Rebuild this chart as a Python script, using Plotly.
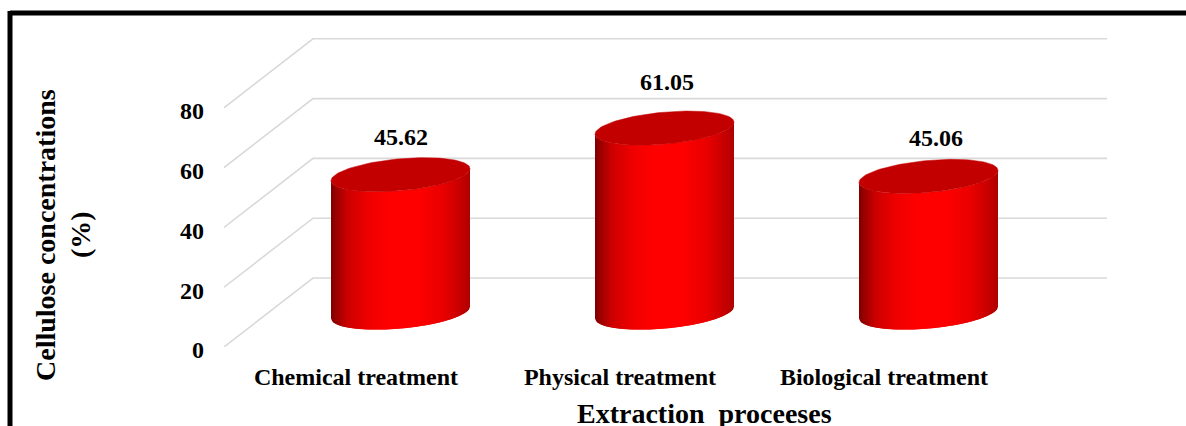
import numpy as np
import plotly.graph_objects as go

# Chart data
categories = ["Chemical treatment", "Physical treatment", "Biological treatment"]
cellulose = [45.62, 61.05, 45.06]
y_ticks = [0, 20, 40, 60, 80]
y_title_lines = ["Cellulose concentrations", "(%)"]
x_title = "Extraction  proceeses"

# Canvas and plot area, in pixels
WIDTH, HEIGHT = 1186, 426
LEFT, RIGHT, TOP, BOTTOM = 224, 79, 30, 79
X_PX = 264.0   # pixels per category
Y_PX = 2.99    # pixels per percentage point

# Floor depth of the pseudo-3D box, in axis units
DEPTH_X = 89 / X_PX
DEPTH_Y = 69 / Y_PX

# Cylinder geometry, in axis units
RX = 69.5 / X_PX
RY = 16 / Y_PX
TILT = 6 / Y_PX
HEIGHT_GAIN = 1.01  # columns sit mid-depth, slightly nearer the viewer
N_STRIPS = 70

FONT = "Liberation Serif"
GRID = "#d9d9d9"
CAP = "#c20000"
SHADE_POS = [0.0, 0.03, 0.12, 0.26, 0.42, 0.62, 0.8, 0.93, 1.0]
SHADE_RED = [125, 150, 205, 238, 255, 255, 234, 200, 175]


def shade(f):
    return f"rgb({int(np.interp(f, SHADE_POS, SHADE_RED))},0,0)"


def lower_arc(u, cx, cy):
    return cx + RX * u, cy - RY * np.sqrt(max(0.0, 1 - u * u)) + TILT * u


fig = go.Figure()

# Side wall and floor gridlines of the box
x0 = -0.5
x1 = len(categories) - 0.5 + DEPTH_X + 2 / X_PX
for v in y_ticks:
    fig.add_trace(go.Scatter(
        x=[x0, x0 + DEPTH_X, x1],
        y=[v, v + DEPTH_Y, v + DEPTH_Y],
        mode="lines",
        line=dict(color=GRID, width=1.6),
        cliponaxis=False,
        hoverinfo="skip",
    ))

# Cylinders: shaded vertical strips for the wall, then the top cap.
# Each strip reaches under its right-hand neighbour so no seams show.
for i, value in enumerate(cellulose):
    cx = i + DEPTH_X / 2
    base = DEPTH_Y / 2
    top = base + value * HEIGHT_GAIN
    edges = np.linspace(-1, 1, N_STRIPS + 1)
    for k in range(N_STRIPS):
        us = np.linspace(edges[k], edges[min(k + 2, N_STRIPS)], 4)
        arc = [lower_arc(u, cx, 0) for u in us]
        xs = [p[0] for p in arc]
        ys = [p[1] for p in arc]
        fig.add_trace(go.Scatter(
            x=xs + xs[::-1] + xs[:1],
            y=[top + y for y in ys] + [base + y for y in ys[::-1]] + [top + ys[0]],
            mode="lines",
            fill="toself",
            fillcolor=shade((k + 0.5) / N_STRIPS),
            line=dict(width=0),
            hoverinfo="skip",
        ))
    t = np.linspace(0, 2 * np.pi, 121)
    fig.add_trace(go.Scatter(
        x=cx + RX * np.cos(t),
        y=top + RY * np.sin(t) + TILT * np.cos(t),
        mode="lines",
        fill="toself",
        fillcolor=CAP,
        line=dict(color=CAP, width=0.5),
        hoverinfo="skip",
    ))

# Value labels above each column
label_xshift = [0, 2, 7]
label_yshift = [38, 46, 38]
for i, value in enumerate(cellulose):
    fig.add_annotation(
        x=i + DEPTH_X / 2,
        y=DEPTH_Y / 2 + value * HEIGHT_GAIN,
        text=f"<b>{value:.2f}</b>",
        showarrow=False,
        xshift=label_xshift[i],
        yshift=label_yshift[i],
        font=dict(family=FONT, size=24, color="black"),
    )


def paper_x(px):
    return (px - LEFT) / (WIDTH - LEFT - RIGHT)


def paper_y(px):
    return 1 - (px - TOP) / (HEIGHT - TOP - BOTTOM)


# Axis titles
for line, px in zip(y_title_lines, [45, 80]):
    fig.add_annotation(
        xref="paper", yref="paper", x=paper_x(px), y=paper_y(235),
        xanchor="center", yanchor="middle",
        text=f"<b>{line}</b>", textangle=-90, showarrow=False,
        font=dict(family=FONT, size=28, color="black"),
    )
fig.add_annotation(
    xref="paper", yref="paper", x=paper_x(704), y=paper_y(413),
    xanchor="center", yanchor="middle",
    text=f"<b>{x_title}</b>", showarrow=False,
    font=dict(family=FONT, size=28, color="black"),
)

# Black frame, open on the right and bottom
frame = dict(type="line", xref="paper", yref="paper", line=dict(color="black", width=5))
fig.add_shape(x0=paper_x(10), x1=paper_x(1190), y0=paper_y(13), y1=paper_y(13), **frame)
fig.add_shape(x0=paper_x(10), x1=paper_x(10), y0=paper_y(11), y1=paper_y(430), **frame)

fig.update_layout(
    width=WIDTH,
    height=HEIGHT,
    margin=dict(l=LEFT, r=RIGHT, t=TOP, b=BOTTOM, autoexpand=False),
    paper_bgcolor="white",
    plot_bgcolor="white",
    showlegend=False,
    font=dict(family=FONT, color="black"),
    xaxis=dict(
        range=[-0.5, (WIDTH - LEFT - RIGHT) / X_PX - 0.5],
        tickmode="array",
        tickvals=list(range(len(categories))),
        ticktext=[f"<b>{c}</b>" for c in categories],
        tickfont=dict(family=FONT, size=24, color="black"),
        ticks="",
        showgrid=False,
        zeroline=False,
        showline=False,
        ticklabelstandoff=13,
        automargin=False,
    ),
    yaxis=dict(
        range=[0, (HEIGHT - TOP - BOTTOM) / Y_PX],
        tickmode="array",
        tickvals=y_ticks,
        ticktext=[f"<b>{v}</b>" for v in y_ticks],
        tickfont=dict(family=FONT, size=24, color="black"),
        ticks="",
        showgrid=False,
        zeroline=False,
        showline=False,
        ticklabelstandoff=19,
        ticklabelshift=3,
        automargin=False,
    ),
)

fig.write_html("out.html")
